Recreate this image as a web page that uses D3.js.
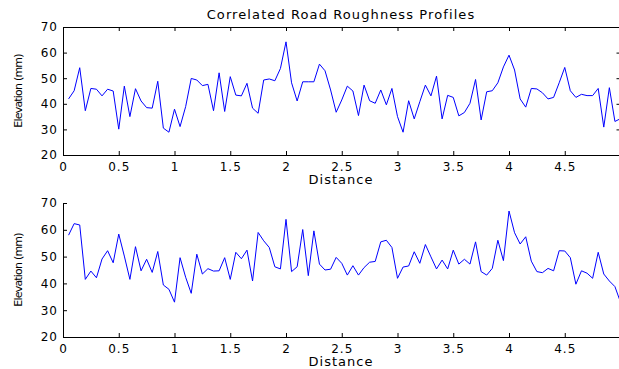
<!DOCTYPE html>
<html>
<head>
<meta charset="utf-8">
<script src="https://cdn.jsdelivr.net/npm/d3@7"></script>
<style>
  body { margin: 0; background: #fff; }
  svg text { font-family: "DejaVu Sans", Arial, sans-serif; fill: #000; }
</style>
</head>
<body>
<div id="svgdiv"></div>
<script>
var width = 619, height = 369;

// distance along the road (m)
var distance = [0.05,0.1,0.15,0.2,0.25,0.3,0.35,0.4,0.45,0.5,0.55,0.6,0.65,0.7,0.75,0.8,0.85,0.9,0.95,1.0,
  1.05,1.1,1.15,1.2,1.25,1.3,1.35,1.4,1.45,1.5,1.55,1.6,1.65,1.7,1.75,1.8,1.85,1.9,1.95,2.0,
  2.05,2.1,2.15,2.2,2.25,2.3,2.35,2.4,2.45,2.5,2.55,2.6,2.65,2.7,2.75,2.8,2.85,2.9,2.95,3.0,
  3.05,3.1,3.15,3.2,3.25,3.3,3.35,3.4,3.45,3.5,3.55,3.6,3.65,3.7,3.75,3.8,3.85,3.9,3.95,4.0,
  4.05,4.1,4.15,4.2,4.25,4.3,4.35,4.4,4.45,4.5,4.55,4.6,4.65,4.7,4.75,4.8,4.85,4.9,4.95,5.0];

// elevation of the first profile (mm)
var profileTop = [41.9,45.1,54.1,37.3,46.0,45.7,43.1,45.7,45.0,30.1,46.9,35.0,45.9,41.1,38.5,38.3,48.8,30.5,28.9,37.9,
  31.1,38.9,49.9,49.3,47.1,47.6,37.3,52.1,37.0,50.6,43.4,43.1,48.0,38.3,36.3,49.3,49.7,49.0,53.8,64.2,
  48.2,41.1,48.6,48.6,48.6,55.5,52.9,45.4,36.7,41.5,46.9,45.0,35.4,47.3,41.2,40.2,45.4,39.6,46.0,35.0,
  28.9,41.2,34.1,40.8,47.3,43.1,50.8,34.1,43.3,42.5,35.3,36.6,40.2,49.5,33.7,44.7,45.1,48.2,54.4,59.0,
  53.2,41.9,38.7,46.0,45.8,44.3,41.9,42.5,48.2,54.2,45.1,42.5,43.7,43.2,43.2,46.0,30.9,46.3,33.1,34.2];

// elevation of the second (correlated) profile (mm)
var profileBottom = [58.0,62.3,61.8,41.5,44.6,42.1,49.1,52.2,47.7,58.4,50.2,41.5,53.7,44.7,49.0,44.1,51.9,39.4,37.8,33.0,
  49.6,42.3,36.3,50.9,43.5,45.5,44.6,44.7,49.6,41.5,51.6,49.2,52.4,40.9,59.0,55.9,53.4,46.2,45.4,63.9,
  44.4,46.2,60.1,42.9,59.6,47.2,45.0,45.3,49.7,47.5,43.1,46.6,43.1,45.9,47.9,48.2,55.5,56.1,53.4,41.9,
  46.1,46.5,51.8,47.5,54.5,49.9,45.4,48.7,45.4,52.4,47.2,49.0,47.2,55.5,44.4,43.1,45.6,56.1,48.5,67.0,
  58.9,54.7,57.4,48.3,44.4,44.0,45.6,44.7,52.2,52.1,49.6,39.7,44.7,43.8,41.9,51.6,43.5,40.9,38.8,33.0];

var xTicks = [0, 0.5, 1, 1.5, 2, 2.5, 3, 3.5, 4, 4.5];
var yTicks = [20, 30, 40, 50, 60, 70];

var svg = d3.select("#svgdiv")
  .append("svg")
  .attr("width", width)
  .attr("height", height);

var xScale = d3.scaleLinear().domain([0, 5]).range([63, 620.5]);

var panels = [
  { data: profileTop, top: 27, bottom: 155, box: true },
  { data: profileBottom, top: 203, bottom: 337, box: false }
];

panels.forEach(function(p) {
  var yScale = d3.scaleLinear().domain([20, 70]).range([p.bottom, p.top]);
  var g = svg.append("g");

  if (p.box) {
    g.append("g")
      .attr("transform", "translate(0," + p.top + ")")
      .call(d3.axisTop(xScale).tickValues(xTicks).tickSize(-4).tickSizeOuter(0).tickFormat(""));
    g.append("g")
      .attr("transform", "translate(" + xScale(5) + ",0)")
      .call(d3.axisRight(yScale).tickValues(yTicks).tickSize(-4).tickSizeOuter(0).tickFormat(""));
  }

  var xAxis = g.append("g")
    .attr("transform", "translate(0," + p.bottom + ")")
    .call(d3.axisBottom(xScale).tickValues(xTicks).tickSize(-4).tickSizeOuter(0).tickPadding(7)
      .tickFormat(function(d) { return String(d); }));

  var yAxis = g.append("g")
    .attr("transform", "translate(" + xScale(0) + ",0)")
    .call(d3.axisLeft(yScale).tickValues(yTicks).tickSize(-4).tickSizeOuter(0).tickPadding(5));

  [xAxis, yAxis].forEach(function(a) {
    a.selectAll("text")
      .style("font-family", "DejaVu Sans")
      .style("font-size", "12px")
      .style("letter-spacing", "1px")
      .attr("fill", "#000");
    a.selectAll("line, path").attr("stroke", "#000");
  });

  var line = d3.line()
    .x(function(d, i) { return xScale(distance[i]); })
    .y(function(d) { return yScale(d); });

  g.append("path")
    .datum(p.data)
    .attr("fill", "none")
    .attr("stroke", "#0000ff")
    .attr("stroke-width", 1)
    .attr("d", line);

  g.append("text")
    .attr("x", 341)
    .attr("y", p.bottom + 29)
    .attr("text-anchor", "middle")
    .style("font-size", "13px")
    .style("letter-spacing", "1px")
    .text("Distance");

  g.append("text")
    .attr("transform", "translate(22," + (p.top + p.bottom) / 2 + ") rotate(-90)")
    .attr("text-anchor", "middle")
    .style("font-size", "11px")
    .style("letter-spacing", "-0.8px")
    .text("Elevation (mm)");
});

svg.append("text")
  .attr("x", 341)
  .attr("y", 19)
  .attr("text-anchor", "middle")
  .style("font-size", "13px")
  .style("letter-spacing", "1.1px")
  .text("Correlated Road Roughness Profiles");
</script>
</body>
</html>
